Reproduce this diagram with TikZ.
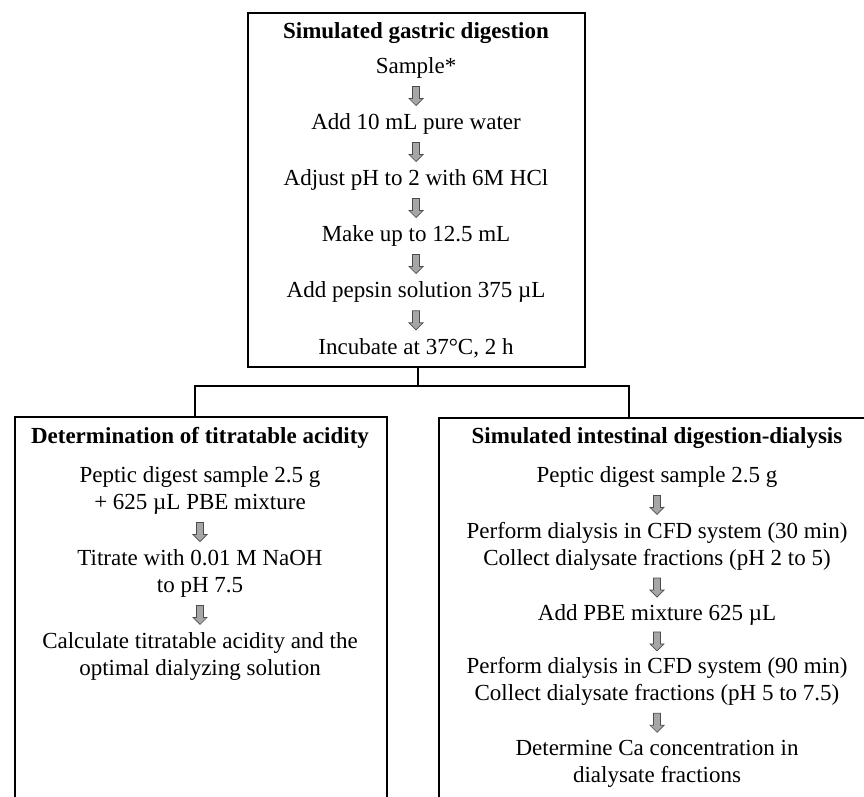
\documentclass[tikz,border=0pt]{standalone}
\usepackage{fontspec}
\setmainfont{Liberation Serif}
\usetikzlibrary{calc}
\begin{document}
\begin{tikzpicture}[x=1pt,y=-1pt,
  every node/.style={font=\fontsize{23}{27}\selectfont, inner sep=0pt, align=center},
  titlenode/.style={font=\fontsize{23}{27}\selectfont\bfseries},
  panel/.style={draw=black, line width=1.8pt},
  blockarrow/.style={draw=black!70, fill=black!35, line width=0.7pt, line join=miter},
  link/.style={line width=1.8pt, line join=miter}
]
\useasboundingbox (0,0) rectangle (864,796);
\fill[white] (0,0) rectangle (864,796);
\clip (0,0) rectangle (864,796);

% panels
\node[panel, minimum width=337pt, minimum height=354pt, anchor=north west] (gastric) at (247,12) {};
\node[panel, minimum width=372pt, minimum height=420pt, anchor=north west] (titr) at (14,416) {};
\node[panel, minimum width=440pt, minimum height=420pt, anchor=north west] (intest) at (438,417) {};

% gastric texts
\node[titlenode] (gt) at (416,33) {Simulated gastric digestion};
\node (g1) at (416,68) {Sample*};
\node (g2) at (416,124) {Add 10 mL pure water};
\node (g3) at (416,180) {Adjust pH to 2 with 6M HCl};
\node (g4) at (416,236) {Make up to 12.5 mL};
\node (g5) at (416,292) {Add pepsin solution 375 µL};
\node (g6) at (416,348) {Incubate at 37°C, 2 h};

% titratable acidity texts
\node[titlenode] (lt) at (200,438) {Determination of titratable acidity};
\node (l1) at (200,490.5) {Peptic digest sample 2.5 g\\+ 625 µL PBE mixture};
\node (l2) at (200,573.5) {Titrate with 0.01 M NaOH\\to pH 7.5};
\node (l3) at (200,656.5) {Calculate titratable acidity and the\\optimal dialyzing solution};

% intestinal texts
\node[titlenode] (rt) at (657,438) {Simulated intestinal digestion-dialysis};
\node (r1) at (657,477) {Peptic digest sample 2.5 g};
\node (r2) at (657,546.5) {Perform dialysis in CFD system (30 min)\\Collect dialysate fractions (pH 2 to 5)};
\node (r3) at (657,615) {Add PBE mixture 625 µL};
\node (r4) at (657,681.5) {Perform dialysis in CFD system (90 min)\\Collect dialysate fractions (pH 5 to 7.5)};
\node (r5) at (657,763.5) {Determine Ca concentration in\\dialysate fractions};

% step arrows (block arrows between consecutive steps)
\foreach \a/\b in {g1/g2,g2/g3,g3/g4,g4/g5,g5/g6,l1/l2,l2/l3,r1/r2,r2/r3,r3/r4,r4/r5}{
  \path (\a.south) -- coordinate[midway] (m-\a) (\b.north);
  \draw[blockarrow] ($(m-\a)+(-3.5,-9.5)$) -- ++(7,0) -- ++(0,12) -- ++(3.5,0)
    -- ++(-7,7) -- ++(-7,-7) -- ++(3.5,0) -- cycle;
}

% branch connectors
\coordinate (jc) at (418,386);
\coordinate (jl) at (195,386);
\coordinate (jr) at (629,386);
\draw[link] (gastric.south -| jc) -- (jc);
\draw[link] (titr.north -| jl) -- (jl) -- (jr) -- (intest.north -| jr);
\end{tikzpicture}
\end{document}
